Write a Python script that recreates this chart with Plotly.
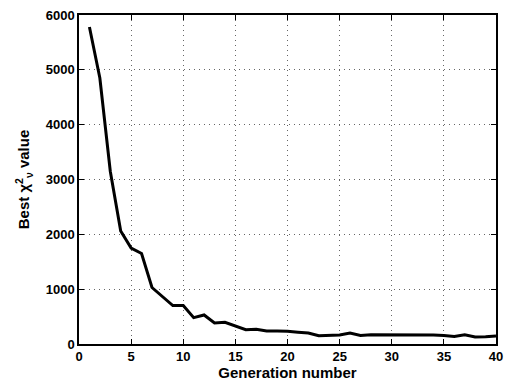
import plotly.graph_objects as go

generations = list(range(1, 41))
best_chi2 = [5780, 4850, 3150, 2060, 1750, 1650, 1030, 860, 700, 700,
             480, 530, 385, 395, 335, 262, 270, 237, 237, 234,
             216, 200, 151, 151, 163, 200, 157, 170, 170, 176,
             176, 170, 170, 163, 157, 139, 170, 127, 133, 145]

x_ticks = [0, 5, 10, 15, 20, 25, 30, 35, 40]
y_ticks = [0, 1000, 2000, 3000, 4000, 5000, 6000]

FONT = "Liberation Sans, Arial, Helvetica"

fig = go.Figure()
fig.add_trace(go.Scatter(x=generations, y=best_chi2, mode="lines",
                         line=dict(color="black", width=3), showlegend=False))

axis_common = dict(
    showline=True, linecolor="black", linewidth=1.5, mirror="ticks",
    ticks="inside", ticklen=5, tickcolor="black", tickwidth=1,
    showgrid=True, gridcolor="#666666", griddash="1px,4px", gridwidth=1,
    zeroline=False, automargin=False,
    tickfont=dict(family=FONT, size=13, color="black", weight="bold"),
)

fig.update_xaxes(range=[0, 40], tickvals=x_ticks,
                 title=dict(text="<b>Generation number</b>", standoff=0,
                            font=dict(family=FONT, size=15, color="black")),
                 **axis_common)
fig.update_yaxes(range=[0, 6000], tickvals=y_ticks,
                 title=dict(text="<b>Best χ<sup>2</sup><sub>ν</sub> value</b>", standoff=12,
                            font=dict(family=FONT, size=15, color="black")),
                 **axis_common)

fig.update_layout(
    width=506, height=381,
    margin=dict(l=79, r=10, t=15, b=37),
    plot_bgcolor="white", paper_bgcolor="white",
)

fig.write_html("out.html", config={"displayModeBar": False},
               post_script="document.body.style.margin='0';document.body.style.overflow='hidden';")
